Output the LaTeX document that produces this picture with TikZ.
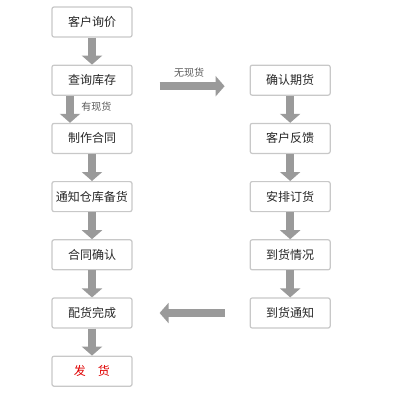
\documentclass[tikz,border=0pt]{standalone}
\usepackage{fontspec}
\setmainfont{Noto Sans CJK SC}
\usetikzlibrary{arrows.meta,positioning}

\definecolor{boxline}{HTML}{C8C8C8}
\definecolor{flowgray}{HTML}{9A9A9A}
\definecolor{shipred}{HTML}{E00000}

\begin{document}
\begin{tikzpicture}[x=1pt,y=-1pt,
        stage/.style={draw=boxline, line width=1.2pt, rounded corners=2pt, fill=white,
          minimum width=80pt, minimum height=30pt, inner sep=0pt,
          font=\fontsize{12}{14}\selectfont, text=black!85},
        flow/.style={draw=flowgray, line width=8pt, -{Triangle[width=20pt,length=9pt]}},
        note/.style={font=\fontsize{10}{12}\selectfont, text=black!65},
        node distance=27pt
      ]
        \useasboundingbox (0,0) rectangle (400,400);
        % left column
        \node[stage] (ask) at (92,22) {客户询价};
        \node[stage, below=of ask] (stock) {查询库存};
        \node[stage, below=of stock] (contract) {制作合同};
        \node[stage, below=of contract] (prepare) {通知仓库备货};
        \node[stage, below=of prepare] (verify) {合同确认};
        \node[stage, below=of verify] (done) {配货完成};
        \node[stage, below=of done, text=shipred] (ship) {发\hspace{1em}货};
        % right column
        \node[stage, right=117pt of stock] (confirm) {确认期货};
        \node[stage, below=of confirm] (feedback) {客户反馈};
        \node[stage, below=of feedback] (order) {安排订货};
        \node[stage, below=of order] (arrive) {到货情况};
        \node[stage, below=of arrive] (notice) {到货通知};

        \draw[flow] (ask) -- (stock);
        \draw[flow] ([xshift=-22pt]stock.south) -- node[note, right=4pt, pos=0.42] {有现货} ([xshift=-22pt]contract.north);
        \draw[flow] (contract) -- (prepare);
        \draw[flow] (prepare) -- (verify);
        \draw[flow] (verify) -- (done);
        \draw[flow] (done) -- (ship);

        \draw[flow] ([xshift=27pt,yshift=-6pt]stock.east) -- node[note, above=2pt, xshift=-3pt] {无现货} ([xshift=-25pt,yshift=-6pt]confirm.west);

        \draw[flow] (confirm) -- (feedback);
        \draw[flow] (feedback) -- (order);
        \draw[flow] (order) -- (arrive);
        \draw[flow] (arrive) -- (notice);
        \draw[flow] ([xshift=-25pt]notice.west) -- ([xshift=27pt]done.east);
      \end{tikzpicture}
\end{document}
